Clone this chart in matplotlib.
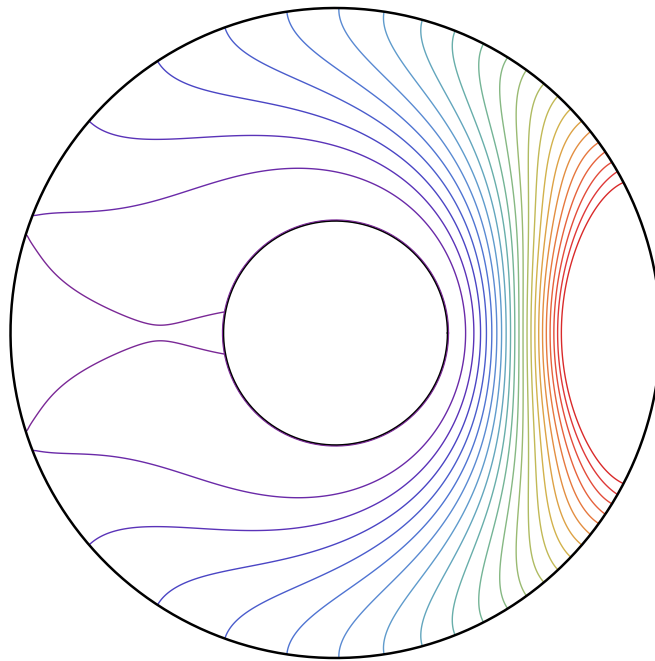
import numpy as np
import matplotlib
matplotlib.use("Agg")
import matplotlib.pyplot as plt

# Creeping (Stokes) flow through a disc around a fixed inner cylinder.
# Stream function psi: biharmonic; no-slip on the cylinder (psi = dpsi/dr = 0),
# prescribed through-flow psi = g(theta) with dpsi/dr = 0 on the outer wall.

A_IN = 0.345                      # cylinder radius (outer wall radius = 1)
levels = np.arange(0.0, 23.0)     # drawn stream-function levels

# wall angles (deg, upper half) where psi takes each drawn level
wall_deg = np.array([162.2, 158.9, 139.3, 123.2, 109.9, 98.6, 89.4, 81.4, 74.5,
                     68.4, 62.9, 58.0, 54.0, 50.1, 46.8, 43.6, 40.7, 38.3, 35.9,
                     33.9, 31.7, 29.8, 27.6])
wall_val = levels.copy()

# wall values outside the drawn range
edge_deg = np.array([0.0, 3.0, 6.0, 10.0, 15.0, 20.0, 24.0, 166.0, 180.0])
edge_val = np.array([42.0, 41.0, 38.5, 34.5, 30.0, 26.5, 24.0, -0.08, -0.12])

line_colors = ["#7a2896", "#6a2aa8", "#5a33b8", "#4a45c4", "#4a5ccc", "#4f74d2",
               "#5a8ad2", "#5f9bcc", "#63a6bd", "#68aeaa", "#74b496", "#86b883",
               "#9aba72", "#afbb62", "#c2b956", "#d2b24c", "#dda245", "#e38e41",
               "#e6783e", "#e6623c", "#e34c3a", "#df3838", "#d92a2a"]

# boundary function on a fine periodic grid
ang = np.concatenate([wall_deg, edge_deg])
val = np.concatenate([wall_val, edge_val])
o = np.argsort(ang)
ang, val = ang[o], val[o]
M = 4096
th = 2 * np.pi * np.arange(M) / M
thd = np.degrees(np.minimum(th, 2 * np.pi - th))
g = np.interp(thd, ang, val)

NMAX = 240
gn = np.array([np.mean(g)] + [2 * np.mean(g * np.cos(n * th)) for n in range(1, NMAX + 1)])


def funcs(n, r):
    """Radial solutions of the biharmonic equation for mode n (values, slopes)."""
    a = A_IN
    if n == 0:
        f = [np.ones_like(r), np.log(r), r ** 2, r ** 2 * np.log(r)]
        d = [np.zeros_like(r), 1 / r, 2 * r, 2 * r * np.log(r) + r]
    elif n == 1:
        f = [r, a / r, r ** 3, r * np.log(r)]
        d = [np.ones_like(r), -a / r ** 2, 3 * r ** 2, np.log(r) + 1]
    else:
        q = (a / r) ** n
        f = [r ** n, q, r ** (n + 2), q * r ** 2]
        d = [n * r ** (n - 1), -n * q / r, (n + 2) * r ** (n + 1), (2 - n) * q * r]
    return np.array(f), np.array(d)


r = np.linspace(A_IN + 1e-4, 1.0, 340)
tt = np.linspace(0, 2 * np.pi, 1441)
psi_n = np.zeros((NMAX + 1, r.size))
ends = np.array([A_IN, 1.0])
for n in range(NMAX + 1):
    f, d = funcs(n, ends)
    Mat = np.array([f[:, 0], d[:, 0], f[:, 1], d[:, 1]])
    c = np.linalg.solve(Mat, np.array([0.0, 0.0, gn[n], 0.0]))
    fr, _ = funcs(n, r)
    psi_n[n] = c @ fr

cosm = np.cos(np.outer(np.arange(NMAX + 1), tt))
PSI = psi_n.T @ cosm
RR, TT = np.meshgrid(r, tt, indexing="ij")
X, Y = RR * np.cos(TT), RR * np.sin(TT)

fig = plt.figure(figsize=(6.55, 6.61), dpi=100)
lim = 1.03
side = 650 * lim
ax = fig.add_axes([(335.5 - side / 2) / 655, (328 - side / 2) / 661, side / 655, side / 661])
ax.set_xlim(-lim, lim)
ax.set_ylim(-lim, lim)
ax.set_aspect("equal")
ax.axis("off")

ax.contour(X, Y, PSI, levels=levels, colors=line_colors, linewidths=1.0)
tc = np.linspace(0, 2 * np.pi, 400)
ax.plot(A_IN * np.cos(tc), A_IN * np.sin(tc), color="black", lw=1.3)
ax.plot((A_IN + 0.003) * np.cos(tc), (A_IN + 0.003) * np.sin(tc),
        color=line_colors[0], lw=0.8)
ax.plot(np.cos(tc), np.sin(tc), color="black", lw=1.8, clip_on=False)
fig.savefig("out.png", dpi=100)
